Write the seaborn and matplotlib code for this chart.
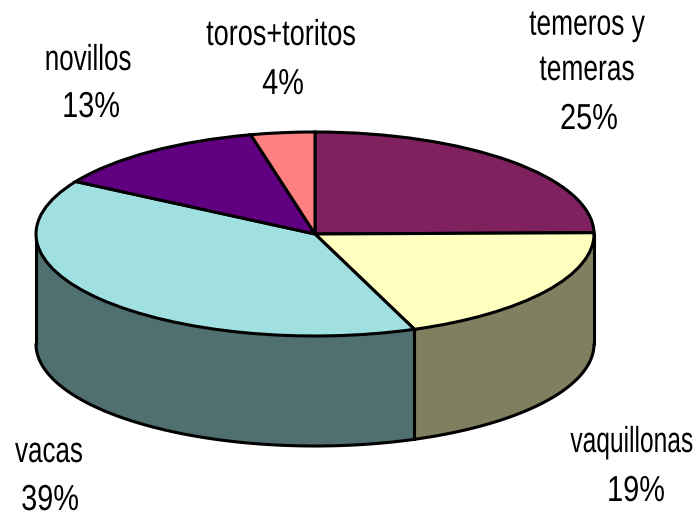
import numpy as np
import matplotlib
matplotlib.use("Agg")
import matplotlib.pyplot as plt
import matplotlib.patheffects as pe
from matplotlib.transforms import Affine2D
import seaborn as sns

# Slice data, clockwise from 12 o'clock (sizes, labels as printed)
names = ["temeros y\ntemeras", "vaquillonas", "vacas", "novillos", "toros+toritos"]
percent_labels = ["25%", "19%", "39%", "13%", "4%"]
shares = [24.8, 19.4, 39.4, 12.7, 3.7]
top_colors = ["#7F215F", "#FFFFC0", "#A0E0E0", "#600080", "#FF8080"]
side_colors = ["#40102F", "#808060", "#507070", "#300040", "#804040"]

# label anchors in reference pixels (x, baseline y)
name_px = [(587, 80), (693, 452), (15, 462), (88, 70), (281, 45)]
name_ha = ["center", "right", "left", "center", "center"]
name_sx = [0.73, 0.68, 0.72, 0.72, 0.75]
percent_px = [(589, 129), (636, 501), (50, 510), (91, 117), (283, 94)]
PERCENT_SX = 0.8

W, H = 699, 512
CX, CY, RX, RY = 315, 234, 279, 102
DEPTH = 110 / RY
LINE = 2.2


class Squeeze(pe.AbstractPathEffect):
    # the original text is tightly set, so narrow it around its anchor
    def __init__(self, x0, sx):
        super().__init__()
        self.x0 = x0
        self.sx = sx

    def draw_path(self, renderer, gc, tpath, affine, rgbFace=None):
        squeezed = affine + Affine2D().translate(-self.x0, 0).scale(self.sx, 1).translate(self.x0, 0)
        renderer.draw_path(gc, tpath, squeezed, rgbFace)


def put_label(s, px, py, ha, sx):
    txt = ax.text((px - CX) / RX, (CY - py) / RY, s, ha=ha, va="baseline", multialignment="center",
                  fontsize=26, color="black", linespacing=1.38, zorder=5)
    txt.set_path_effects([Squeeze(px, sx)])


sns.set_theme(style="white")
plt.rcParams["font.family"] = ["Liberation Sans", "DejaVu Sans"]

fig = plt.figure(figsize=(W / 100, H / 100), dpi=100)
ax = fig.add_axes([0, 0, 1, 1])

# side wall, only the part of each slice on the front half
edges = np.cumsum([0] + shares) / sum(shares) * 360
for i, col in enumerate(side_colors):
    a0, a1 = max(edges[i], 90), min(edges[i + 1], 270)
    if a1 <= a0:
        continue
    t = np.radians(np.linspace(a0, a1, 120))
    x = np.sin(t)
    y = np.cos(t)
    ax.fill_between(x, y, y - DEPTH, color=col, lw=0, zorder=1)
    for a in (a0, a1):
        xe, ye = np.sin(np.radians(a)), np.cos(np.radians(a))
        ax.plot([xe, xe], [ye, ye - DEPTH], color="black", lw=LINE, zorder=2, solid_capstyle="round")
    ax.plot(x, y - DEPTH, color="black", lw=LINE, zorder=2, solid_capstyle="round")

ax.pie(shares, colors=top_colors, startangle=90, counterclock=False, radius=1,
       wedgeprops=dict(edgecolor="black", linewidth=LINE, zorder=3))

ax.set_aspect("auto")
ax.set_xlim((0 - CX) / RX, (W - CX) / RX)
ax.set_ylim((CY - H) / RY, CY / RY)
ax.axis("off")

for name, (px, py), ha, sx in zip(names, name_px, name_ha, name_sx):
    put_label(name, px, py, ha, sx)
for pct, (px, py) in zip(percent_labels, percent_px):
    put_label(pct, px, py, "center", PERCENT_SX)

fig.savefig("out.png", dpi=100, facecolor="white")
